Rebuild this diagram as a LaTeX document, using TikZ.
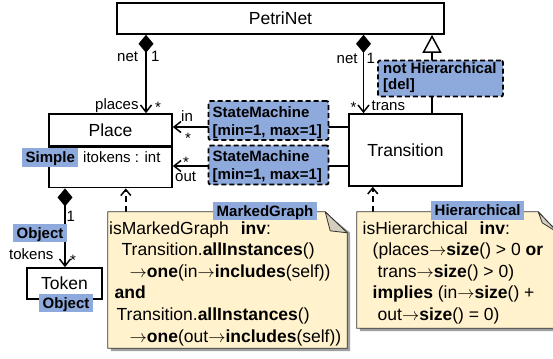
\documentclass[tikz,border=0pt]{standalone}
\usepackage{fontspec}
\setmainfont{Liberation Sans}
\usetikzlibrary{arrows.meta,calc}
\definecolor{lblue}{RGB}{142,169,219}
\definecolor{notefill}{RGB}{255,242,204}
\definecolor{foldfill}{RGB}{212,206,190}
\definecolor{shadowgray}{RGB}{160,160,160}
\newcommand\clsfont{\fontsize{17.5}{20}\selectfont}
\newcommand\smlfont{\fontsize{15}{17}\selectfont}
\newcommand\lblfont{\fontsize{15}{17}\selectfont\bfseries}
\newcommand\arrw{\ensuremath{\rightarrow}}
\begin{document}
\begin{tikzpicture}[x=1pt,y=-1pt,
  classbox/.style={draw, line width=1.6pt, inner sep=0pt, font=\clsfont},
  conn/.style={line width=1.5pt},
  vtip/.style={-{Straight Barb[length=7pt,width=11pt]}},
  compo/.style={conn, {Diamond[length=18pt,width=15pt]}-{Straight Barb[length=7pt,width=11pt]}},
  gen/.style={conn, -{Triangle[open,length=18pt,width=19pt,fill=white]}},
  dep/.style={conn, dash pattern=on 6pt off 4pt, -{Straight Barb[length=6pt,width=10pt]}},
  txt/.style={inner sep=0pt, anchor=base west},
  small/.style={txt, font=\smlfont},
  notetxt/.style={txt, font=\clsfont},
  lbl/.style={fill=lblue, font=\lblfont, inner xsep=3.5pt, inner ysep=3.5pt, text height=11pt, text depth=0.5pt, anchor=base west},
  dashbox/.style={draw, fill=lblue, line width=1.8pt, dash pattern=on 5pt off 3pt, rounded corners=2pt, inner sep=0pt},
  lbltxt/.style={txt, font=\lblfont},
  notebox/.style={inner sep=0pt}
]
\useasboundingbox (0,0) rectangle (553,358);

% classes
\node[classbox, minimum width=327pt, minimum height=31pt] (petri) at (280.5,18.5) {PetriNet};
\node[classbox, minimum width=123pt, minimum height=32pt] (place) at (110.5,130) {Place};
\node[classbox, minimum width=123pt, minimum height=40pt, anchor=north] (placeattr) at (place.south) {};
\node[small] (itok) at (83,162) {itokens : int};
\node[classbox, minimum width=113pt, minimum height=72pt] (trans) at (405.5,150) {Transition};
\node[classbox, minimum width=75pt, minimum height=31pt] (token) at (64.5,283.5) {Token};

% notes (geometry nodes)
\node[notebox, minimum width=239pt, minimum height=136pt] (mg) at (227.5,280) {};
\node[notebox, minimum width=201pt, minimum height=116pt] (hi) at (457.5,270) {};

% connectors
\coordinate (pB) at ([xshift=35.5pt]place.north);
\draw[compo] (petri.south -| pB) -- (pB);
\coordinate (tA) at ([xshift=-42pt]trans.north);
\draw[compo] (petri.south -| tA) -- (tA);
\coordinate (tG) at ([xshift=26.5pt]trans.north);
\draw[gen] (tG) -- (petri.south -| tG);
\coordinate (tIn) at ([yshift=23pt]trans.west);
\draw[conn, vtip] (tIn) -- (tIn -| place.east);
\coordinate (tOut) at ([yshift=-16pt]trans.west);
\draw[conn, vtip] (tOut) -- (tOut -| placeattr.east);
\coordinate (tk) at ([xshift=0.5pt]token.north);
\draw[compo] (placeattr.south -| tk) -- (tk);
\coordinate (mgA) at ([xshift=18pt]mg.north west);
\draw[dep] (mgA) -- (mgA |- placeattr.south);
\coordinate (hA) at ([xshift=16pt]hi.north west);
\draw[dep] (hA) -- (hA |- trans.south);

% connector labels
\node[small] (l1) at (117,62) {net};
\node[small] (l2) at (151,62) {1};
\node[small] (l3) at (95,110) {places};
\node[small] (l4) at (155,112.5) {*};
\node[small] (l5) at (336.5,63.5) {net};
\node[small] (l6) at (366.5,63.5) {1};
\node[small] (l7) at (350.5,112.5) {*};
\node[small] (l8) at (371.5,111) {trans};
\node[small] (l9) at (181,122) {in};
\node[small] (l10) at (185,143.5) {*};
\node[small] (l11) at (183,167) {*};
\node[small] (l12) at (175,181.5) {out};
\node[small] (l13) at (66.5,221.5) {1};
\node[small] (l14) at (9,259.5) {tokens};
\node[small] (l15) at (70,265.5) {*};

% dashed annotation boxes
\node[dashbox, minimum width=120pt, minimum height=39pt] (sm1) at (268.5,120.5) {};
\node[lbltxt] (sm1a) at (212.5,117.3) {StateMachine};
\node[lbltxt] (sm1b) at (212.5,135.8) {[min=1, max=1]};
\node[dashbox, minimum width=120pt, minimum height=39pt] (sm2) at (268.5,165) {};
\node[lbltxt] (sm2a) at (212.5,161) {StateMachine};
\node[lbltxt] (sm2b) at (212.5,179.5) {[min=1, max=1]};
\node[dashbox, minimum width=125pt, minimum height=36pt] (nh) at (440.5,78.5) {};
\node[lbltxt] (nha) at (383,74) {not Hierarchical};
\node[lbltxt] (nhb) at (383,90) {[del]};

% plain labels
\node[lbl] (simple) at (22,162.7) {Simple};
\node[lbl] (obj1) at (13,238.3) {Object};
\node[lbl] (obj2) at (39,308.3) {Object};

% note MarkedGraph
\fill[shadowgray] ([shift={(3pt,-3pt)}]mg.north west) -- ([shift={(-19pt,-3pt)}]mg.north east) -- ([shift={(3pt,-21pt)}]mg.north east) -- ([shift={(3pt,-3pt)}]mg.south east) -- ([shift={(3pt,-3pt)}]mg.south west) -- cycle;
\draw[fill=notefill, line width=0.8pt, draw=black!80] (mg.north west) -- ([xshift=-22pt]mg.north east) -- ([yshift=-21pt]mg.north east) -- (mg.south east) -- (mg.south west) -- cycle;
\draw[fill=foldfill, line width=0.8pt, draw=black!80, line join=round] ([xshift=-22pt]mg.north east) -- ([xshift=-17pt,yshift=-19pt]mg.north east) -- ([yshift=-21pt]mg.north east) -- cycle;
\node[lbl] (mglbl) at (213,216) {MarkedGraph};
\node[notetxt] (m1) at (109,234) {isMarkedGraph\hspace{12pt}\textbf{inv}:};
\node[notetxt] (m2) at (121.5,255.6) {Transition.\textbf{allInstances}()};
\node[notetxt] (m3) at (129.5,277.2) {\arrw\textbf{one}(in\arrw\textbf{includes}(self))};
\node[notetxt] (m4) at (114.5,298.8) {\textbf{and}};
\node[notetxt] (m5) at (116.5,320.4) {Transition.\textbf{allInstances}()};
\node[notetxt] (m6) at (129.5,342) {\arrw\textbf{one}(out\arrw\textbf{includes}(self))};

% note Hierarchical
\fill[shadowgray] ([shift={(3pt,-3pt)}]hi.north west) -- ([shift={(-19pt,-3pt)}]hi.north east) -- ([shift={(3pt,-21pt)}]hi.north east) -- ([shift={(3pt,-3pt)}]hi.south east) -- ([shift={(3pt,-3pt)}]hi.south west) -- cycle;
\draw[fill=notefill, line width=0.8pt, draw=black!80] (hi.north west) -- ([xshift=-20pt]hi.north east) -- ([yshift=-21pt]hi.north east) -- (hi.south east) -- (hi.south west) -- cycle;
\draw[fill=foldfill, line width=0.8pt, draw=black!80, line join=round] ([xshift=-20pt]hi.north east) -- ([xshift=-16pt,yshift=-11pt]hi.north east) -- ([yshift=-21pt]hi.north east) -- cycle;
\node[lbl] (hilbl) at (431,215.7) {Hierarchical};
\node[notetxt] (h1) at (362.5,234) {isHierarchical\hspace{12pt}\textbf{inv}:};
\node[notetxt] (h2) at (372.5,255.5) {(places\arrw\textbf{size}() > 0 \textbf{or}};
\node[notetxt] (h3) at (377.5,277) {trans\arrw\textbf{size}() > 0)};
\node[notetxt] (h4) at (372.5,298.5) {\textbf{implies} (in\arrw\textbf{size}() +};
\node[notetxt] (h5) at (377.5,320) {out\arrw\textbf{size}() = 0)};
\end{tikzpicture}
\end{document}
